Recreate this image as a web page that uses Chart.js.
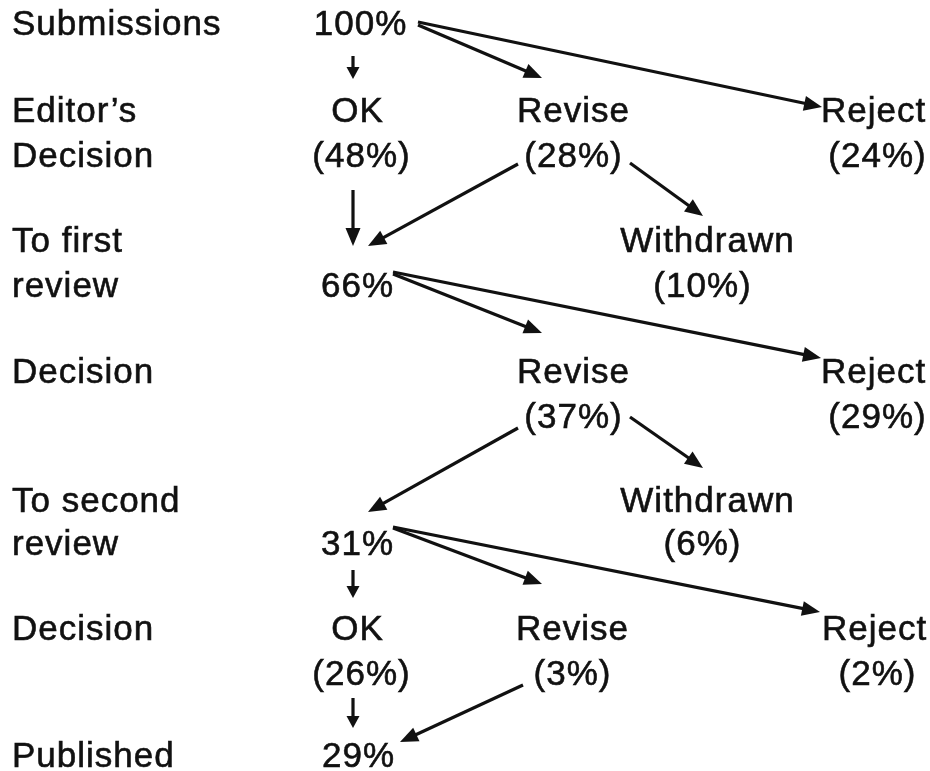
<!DOCTYPE html>
<html>
<head>
<meta charset="utf-8">
<script src="https://cdn.jsdelivr.net/npm/chart.js@4.4.0/dist/chart.umd.min.js"></script>
<style>
  html, body { margin: 0; padding: 0; background: #fff; }
  canvas { display: block; }
</style>
</head>
<body>
<canvas id="flow" width="930" height="771"></canvas>
<script>
// stage names down the left side (baseline in chart units)
const stageLabels = ['Submissions', 'Editor’s', 'Decision', 'To first', 'review', 'Decision', 'To second', 'review', 'Decision', 'Published'];
const stageY = [35, 122, 167, 252, 297, 383, 512, 555, 640, 767];

// outcomes and their shares
const nodeLabels = ['100%', 'OK', '(48%)', 'Revise', '(28%)', 'Reject', '(24%)',
  'Withdrawn', '(10%)', '66%', 'Revise', '(37%)', 'Reject', '(29%)',
  'Withdrawn', '(6%)', '31%', 'OK', '(26%)', 'Revise', '(3%)', 'Reject', '(2%)', '29%'];
const nodeX = [360, 357, 361, 573, 573, 873, 877, 707, 702, 357, 573, 573, 873, 877, 707, 702, 357, 357, 361, 572, 572, 874, 877, 358];
const nodeY = [35, 122, 167, 122, 167, 122, 167, 252, 297, 297, 383, 428, 383, 428, 512, 555, 555, 640, 685, 640, 685, 640, 685, 767];

// flows: start point and arrow tip
const arrowFrom = [[353, 56], [418, 25], [418, 22], [353, 190], [518, 164], [630, 163],
  [393, 274], [393, 272], [518, 428], [630, 417], [393, 528], [393, 527],
  [353, 570], [353, 698], [523, 685]];
const arrowTo = [[353, 79], [542, 78], [822, 107], [353, 246], [368, 246], [703, 216],
  [542, 333], [821, 358], [368, 512], [703, 468], [542, 584], [820, 612],
  [353, 598], [353, 728], [400, 742]];
const shortArrow = [true, false, false, false, false, false, false, false, false, false, false, false, true, true, false];

const ink = '#111111';
const font = '35px "Liberation Sans", Arial, sans-serif';

const flowPlugin = {
  id: 'flowPlugin',
  afterDatasetsDraw(chart) {
    const { ctx, scales: { x, y } } = chart;
    ctx.save();
    ctx.fillStyle = ink;
    ctx.strokeStyle = ink;
    ctx.font = font;
    ctx.letterSpacing = '1px';
    ctx.textBaseline = 'alphabetic';
    ctx.lineWidth = 0.6;

    const label = (t, px, py) => {
      ctx.fillText(t, px, py);
      ctx.strokeText(t, px, py);
    };

    // left column
    ctx.textAlign = 'left';
    stageLabels.forEach((t, i) => {
      label(t, x.getPixelForValue(12), y.getPixelForValue(stageY[i]));
    });

    // outcome text
    ctx.textAlign = 'center';
    nodeLabels.forEach((t, i) => {
      label(t, x.getPixelForValue(nodeX[i]) + 0.5, y.getPixelForValue(nodeY[i]));
    });

    // arrows
    arrowFrom.forEach((f, i) => {
      const x1 = x.getPixelForValue(f[0]), y1 = y.getPixelForValue(f[1]);
      const x2 = x.getPixelForValue(arrowTo[i][0]), y2 = y.getPixelForValue(arrowTo[i][1]);
      const len = shortArrow[i] ? 12 : 18;
      const half = shortArrow[i] ? 6.5 : 7.5;
      const a = Math.atan2(y2 - y1, x2 - x1);
      const dx = Math.cos(a), dy = Math.sin(a);
      ctx.lineWidth = 3.2;
      ctx.lineCap = 'butt';
      ctx.beginPath();
      ctx.moveTo(x1, y1);
      ctx.lineTo(x2 - dx * len * 0.8, y2 - dy * len * 0.8);
      ctx.stroke();
      ctx.beginPath();
      ctx.moveTo(x2, y2);
      ctx.lineTo(x2 - dx * len - dy * half, y2 - dy * len + dx * half);
      ctx.lineTo(x2 - dx * len + dy * half, y2 - dy * len - dx * half);
      ctx.closePath();
      ctx.fill();
    });
    ctx.restore();
  }
};

new Chart(document.getElementById('flow'), {
  type: 'scatter',
  data: {
    datasets: [{
      data: nodeX.map((v, i) => ({ x: v, y: nodeY[i] })),
      pointRadius: 0,
      showLine: false
    }]
  },
  options: {
    responsive: false,
    animation: false,
    layout: { padding: 0 },
    plugins: { legend: { display: false }, tooltip: { enabled: false } },
    scales: {
      x: { type: 'linear', min: 0, max: 930, display: false },
      y: { type: 'linear', min: 0, max: 771, reverse: true, display: false }
    }
  },
  plugins: [flowPlugin]
});
</script>
</body>
</html>
